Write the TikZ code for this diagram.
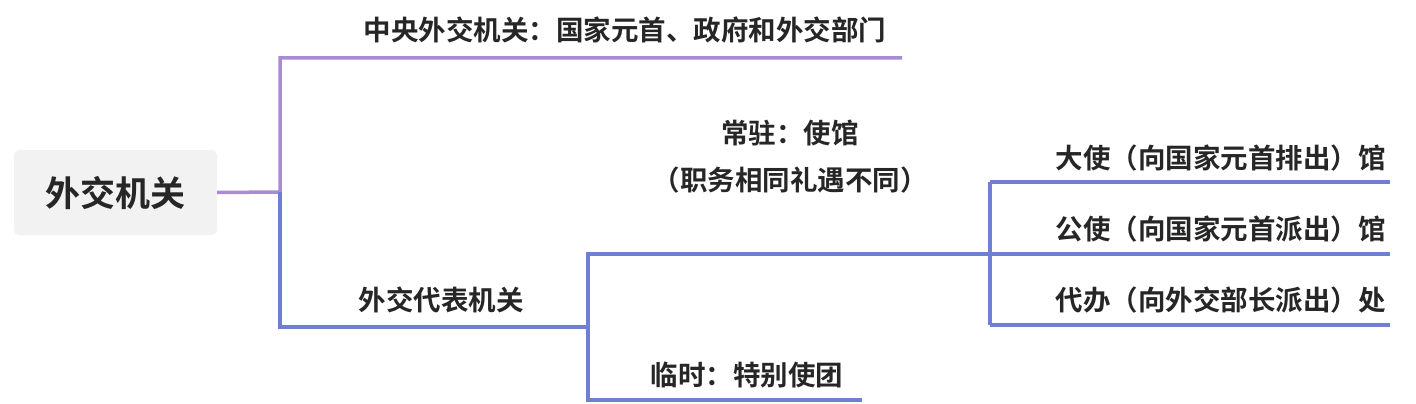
\documentclass[tikz,border=0pt]{standalone}
\usepackage{fontspec}
\setmainfont{Noto Sans CJK SC Bold}
\begin{document}
\begin{tikzpicture}[x=1pt,y=-1pt,
  pl/.style={color={rgb,255:red,169;green,138;blue,216},line width=3.5pt},
  bl/.style={color={rgb,255:red,111;green,128;blue,212},line width=3.5pt},
  lab/.style={font=\fontsize{27.5}{32}\selectfont,text=black!85,inner sep=0pt}]
\useasboundingbox (0,0) rectangle (1416,404);
\node[fill=black!5,rounded corners=5pt,minimum width=203pt,minimum height=85pt,font=\fontsize{35}{40}\selectfont,text=black!85] (root) at (115.5,192.5) {外交机关};
\coordinate (j1) at (280,192);
\coordinate (j2) at (588,327);
\coordinate (j3) at (990,254);
\node[lab] (t1) at (625,30) {中央外交机关：国家元首、政府和外交部门};
\node[lab] (t2) at (441,300) {外交代表机关};
\node[lab] (t3) at (790,133) {常驻：使馆};
\node[lab] (t3b) at (790,180) {（职务相同礼遇不同）};
\node[lab] (t4) at (747,375) {临时：特别使团};
\node[lab,anchor=east] (t5) at (1386,158) {大使（向国家元首排出）馆};
\node[lab,anchor=east] (t6) at (1386,229) {公使（向国家元首派出）馆};
\node[lab,anchor=east] (t7) at (1386,300) {代办（向外交部长派出）处};
\draw[pl] (root.east) -- (j1) -- (280,58) -- (902,58);
\draw[bl] (j1) -- (280,327) -- (j2);
\draw[bl] (j2) -- (588,254) -- (j3);
\draw[bl] (j2) -- (588,400) -- (862,400);
\draw[bl] (990,182) -- (j3) -- (990,325);
\draw[bl] (990,182) -- (1390,182);
\draw[bl] (j3) -- (1390,254);
\draw[bl] (990,325) -- (1390,325);
\end{tikzpicture}
\end{document}
